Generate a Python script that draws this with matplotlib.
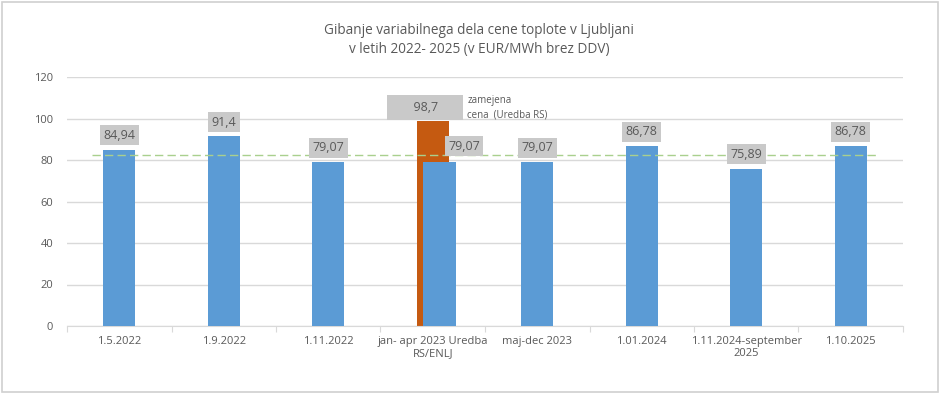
import numpy as np
import matplotlib
matplotlib.use("Agg")
import matplotlib.pyplot as plt
from matplotlib.patches import Rectangle

plt.rcParams['font.family'] = ['Open Sans', 'DejaVu Sans']

# data
categories = ['1.5.2022', '1.9.2022', '1.11.2022', 'jan- apr 2023 Uredba\nRS/ENLJ',
              'maj-dec 2023', '1.01.2024', '1.11.2024-september\n2025', '1.10.2025']
values = [84.94, 91.4, 79.07, 79.07, 79.07, 86.78, 75.89, 86.78]
labels = ['84,94', '91,4', '79,07', '79,07', '79,07', '86,78', '75,89', '86,78']
capped_idx = 3
capped_value = 98.7
capped_label = '98,7'
capped_note = 'zamejena\ncena  (Uredba RS)'
average = 82.2

blue = '#5B9BD5'
orange = '#C55A11'
grid = '#D9D9D9'
txt = '#595959'
boxc = '#C9C9C9'

fig = plt.figure(figsize=(9.4, 3.94), dpi=100)
fig.patches.append(Rectangle((0.002, 0.004), 0.996, 0.992, transform=fig.transFigure,
                             fill=False, edgecolor='#D0D0D0', lw=1.2))
ax = fig.add_axes([67/940, 68/394, 836/940, 249/394])

x = np.arange(len(categories))
offs = np.zeros(len(categories))
offs[capped_idx] = 0.065

# orange bar behind the blue one
ax.bar(capped_idx, capped_value, width=0.31, color=orange, zorder=2)
ax.bar(x + offs, values, width=0.31, color=blue, zorder=3)

# average line
ax.hlines(average, -0.26, 7.26, colors='#A9D08E', linestyles=(0, (6, 3)), lw=1, zorder=4)

# labels
for i, (v, lab) in enumerate(zip(values, labels)):
    lx = i + (0.3 if i == capped_idx else 0)
    ly = v + (7.6 if i == capped_idx else 6.9)
    ax.text(lx, ly, lab, ha='center', va='center', fontsize=9, color=txt, zorder=5,
            bbox=dict(facecolor=boxc, edgecolor='none', pad=2.5))
ax.text(capped_idx - 0.07, capped_value + 6.6, '      ' + capped_label + '      ',
        ha='center', va='center', fontsize=9, color=txt, zorder=5,
        bbox=dict(facecolor=boxc, edgecolor='none', pad=4.5))
ax.text(capped_idx + 0.33, capped_value + 6.6, capped_note, ha='left', va='center',
        fontsize=7, color=txt, linespacing=1.4, zorder=5)

ax.set_xlim(-0.5, 7.5)
ax.set_ylim(0, 120)
ax.set_yticks(np.arange(0, 121, 20))
ax.yaxis.grid(True, color=grid, lw=1)
ax.set_axisbelow(True)
ax.tick_params(axis='y', length=0, labelsize=8, labelcolor=txt, pad=10)

ax.set_xticks(np.arange(-0.5, 8.0, 1.0))
ax.set_xticklabels([])
ax.tick_params(axis='x', which='major', length=4, color=grid)
ax.set_xticks(x, categories, minor=True)
ax.tick_params(axis='x', which='minor', length=0, labelsize=8, labelcolor=txt, pad=7)

for s in ['top', 'right', 'left']:
    ax.spines[s].set_visible(False)
ax.spines['bottom'].set_color(grid)

fig.text(0.51, 0.942, 'Gibanje variabilnega dela cene toplote v Ljubljani\nv letih 2022- 2025 (v EUR/MWh brez DDV)',
         ha='center', va='top', fontsize=9.8, color=txt, linespacing=1.35)

fig.savefig('out.png', dpi=100)
